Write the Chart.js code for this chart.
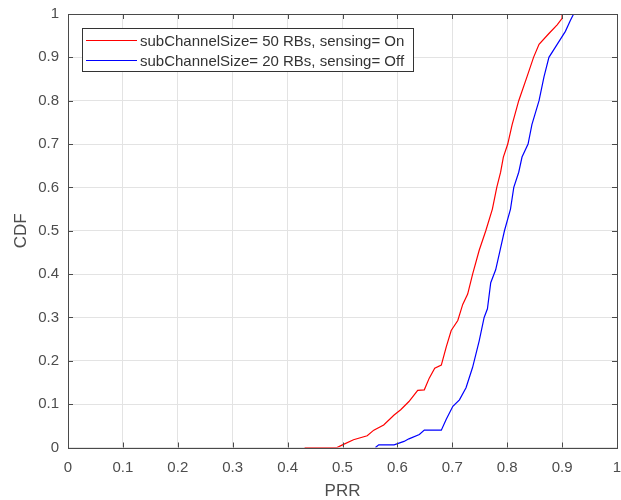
<!DOCTYPE html>
<html>
<head>
<meta charset="utf-8">
<script src="https://cdn.jsdelivr.net/npm/chart.js@4/dist/chart.umd.min.js"></script>
<style>
html,body{margin:0;padding:0;background:#fff;}
#wrap{width:621px;height:500px;position:relative;}
</style>
</head>
<body>
<div id="wrap"><canvas id="c" width="621" height="500"></canvas></div>
<script>
// Data
const xTicks = [0,0.1,0.2,0.3,0.4,0.5,0.6,0.7,0.8,0.9,1];
const yTicks = [0,0.1,0.2,0.3,0.4,0.5,0.6,0.7,0.8,0.9,1];
const labelOn = 'subChannelSize= 50 RBs, sensing= On';
const labelOff = 'subChannelSize= 20 RBs, sensing= Off';
const onPRR = [0.431,0.49,0.5,0.52,0.545,0.557,0.575,0.594,0.606,0.621,0.637,0.649,0.658,0.668,0.68,0.689,0.698,0.71,0.719,0.728,0.737,0.749,0.761,0.773,0.781,0.788,0.793,0.801,0.809,0.821,0.836,0.848,0.858,0.876,0.891,0.9,0.9,0.906];
const onCDF = [0,0,0.006,0.018,0.027,0.04,0.052,0.075,0.087,0.106,0.132,0.133,0.16,0.183,0.19,0.232,0.27,0.293,0.33,0.354,0.4,0.455,0.5,0.55,0.6,0.635,0.67,0.7,0.745,0.8,0.855,0.9,0.93,0.955,0.975,0.99,1.0,1.0];
const offPRR = [0.56,0.566,0.594,0.612,0.621,0.64,0.649,0.68,0.689,0.701,0.713,0.725,0.737,0.749,0.758,0.764,0.770,0.779,0.787,0.795,0.806,0.812,0.821,0.827,0.838,0.845,0.858,0.867,0.876,0.891,0.906,0.915,0.921];
const offCDF = [0,0.006,0.006,0.014,0.02,0.03,0.04,0.04,0.065,0.095,0.11,0.138,0.185,0.246,0.3,0.32,0.38,0.41,0.455,0.5,0.55,0.6,0.635,0.67,0.7,0.745,0.8,0.855,0.9,0.93,0.96,0.985,1.0];

const toPts = (xs, ys) => xs.map((x,i)=>({x:x,y:ys[i]}));
const FONT = 'Liberation Sans, Arial, Helvetica, sans-serif';
const TXT = '#4d4d4d';
const AX = '#4a4a4a';

const matlabBox = {
  id:'matlabBox',
  afterDatasetsDraw(chart){
    const ctx = chart.ctx, a = chart.chartArea;
    const xs = chart.scales.x, ys = chart.scales.y;
    ctx.save();
    ctx.strokeStyle = AX; ctx.lineWidth = 1;
    ctx.strokeRect(Math.round(a.left)+0.5, Math.round(a.top)+0.5, Math.round(a.right-a.left), Math.round(a.bottom-a.top));
    ctx.beginPath();
    xTicks.forEach(v=>{
      const p = Math.round(xs.getPixelForValue(v))+0.5;
      ctx.moveTo(p,a.bottom); ctx.lineTo(p,a.bottom-5);
      ctx.moveTo(p,a.top); ctx.lineTo(p,a.top+5);
    });
    yTicks.forEach(v=>{
      const p = Math.round(ys.getPixelForValue(v))+0.5;
      ctx.moveTo(a.left,p); ctx.lineTo(a.left+5,p);
      ctx.moveTo(a.right,p); ctx.lineTo(a.right-5,p);
    });
    ctx.stroke();
    // legend
    const lx = 82.5, ly = 28.5, lw = 331, lh = 43;
    ctx.fillStyle = '#fff'; ctx.fillRect(lx,ly,lw,lh);
    ctx.strokeStyle = '#333'; ctx.strokeRect(lx,ly,lw,lh);
    ctx.font = '15px ' + FONT; ctx.textBaseline = 'middle'; ctx.fillStyle = '#333';
    chart.data.datasets.forEach((ds,i)=>{
      const yy = 40 + i*20;
      ctx.strokeStyle = ds.borderColor; ctx.lineWidth = 1.2;
      ctx.beginPath(); ctx.moveTo(86,yy+0.5); ctx.lineTo(137,yy+0.5); ctx.stroke();
      ctx.fillText(ds.label, 140, yy+1.5);
    });
    ctx.restore();
  }
};

new Chart(document.getElementById('c'), {
  type:'scatter',
  data:{datasets:[
    {label:labelOn, data:toPts(onPRR,onCDF), showLine:true, borderColor:'#ff0000', backgroundColor:'#ff0000', borderWidth:1.2, pointRadius:0, tension:0},
    {label:labelOff, data:toPts(offPRR,offCDF), showLine:true, borderColor:'#0000ff', backgroundColor:'#0000ff', borderWidth:1.2, pointRadius:0, tension:0}
  ]},
  options:{
    responsive:false, animation:false,
    layout:{padding:{top:14,right:4,left:0,bottom:0}},
    plugins:{legend:{display:false}, tooltip:{enabled:false}},
    scales:{
      x:{type:'linear', min:0, max:1,
        afterBuildTicks(s){ s.ticks = xTicks.map(v=>({value:v})); },
        afterFit(s){ s.height = 52.5; s.paddingLeft = 0; s.paddingRight = 0; },
        ticks:{font:{size:15,family:FONT}, color:TXT, padding:11, maxRotation:0, callback:v=>String(v)},
        grid:{color:'#e3e3e3', drawTicks:false},
        border:{display:false},
        title:{display:true, text:'PRR', font:{size:17,family:FONT,lineHeight:1}, color:TXT, padding:{top:0,bottom:0}}
      },
      y:{type:'linear', min:0, max:1,
        afterBuildTicks(s){ s.ticks = yTicks.map(v=>({value:v})); },
        afterFit(s){ s.width = 68; s.paddingTop = 0; s.paddingBottom = 0; },
        ticks:{font:{size:15,family:FONT}, color:TXT, padding:9, callback:v=>String(v)},
        grid:{color:'#e3e3e3', drawTicks:false},
        border:{display:false},
        title:{display:true, text:'CDF', font:{size:17,family:FONT,lineHeight:1}, color:TXT, padding:{top:12.5,bottom:0}}
      }
    }
  },
  plugins:[matlabBox]
});
</script>
</body>
</html>
